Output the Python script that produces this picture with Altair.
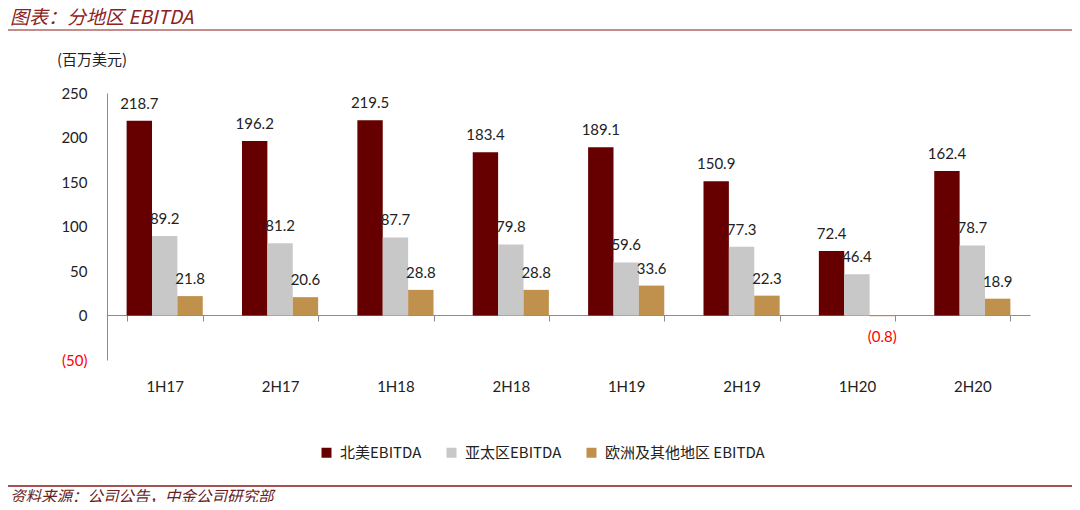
import altair as alt
import pandas as pd

periods = ["1H17", "2H17", "1H18", "2H18", "1H19", "2H19", "1H20", "2H20"]
regions = ["北美EBITDA", "亚太区EBITDA", "欧洲及其他地区 EBITDA"]
north_america = [218.7, 196.2, 219.5, 183.4, 189.1, 150.9, 72.4, 162.4]
asia_pacific = [89.2, 81.2, 87.7, 79.8, 59.6, 77.3, 46.4, 78.7]
europe_other = [21.8, 20.6, 28.8, 28.8, 33.6, 22.3, -0.8, 18.9]
colors = ["#660000", "#C8C8C8", "#C0904D"]
y_ticks = [-50, 0, 50, 100, 150, 200, 250]

rows = []
for series, name in zip([north_america, asia_pacific, europe_other], regions):
    for p, v in zip(periods, series):
        rows.append({"period": p, "region": name, "value": v})
df = pd.DataFrame(rows)
df["label"] = df["value"].map(lambda v: f"({abs(v):.1f})" if v < 0 else f"{v:.1f}")

FONT_NUM = "Lato"
FONT_CJK = "Noto Sans CJK SC"
W, H = 923, 267

x_enc = alt.X(
    "period:N", sort=periods, title=None,
    scale=alt.Scale(paddingInner=0.34, paddingOuter=0.17),
    axis=alt.Axis(
        offset=-45, tickBand="extent", tickSize=6, labelPadding=58, labelAngle=0,
        domainColor="#8c8c8c", tickColor="#8c8c8c", labelFont=FONT_NUM,
        labelFontSize=15, labelColor="#222222",
    ),
)
xoff = alt.XOffset("region:N", sort=regions, scale=alt.Scale(paddingInner=0, paddingOuter=0))
y_enc = alt.Y(
    "value:Q", title=None,
    scale=alt.Scale(domain=[-50, 250], nice=False, zero=False),
    axis=alt.Axis(
        values=y_ticks, grid=False, ticks=False, labelPadding=20,
        domainColor="#8c8c8c", labelFont=FONT_NUM, labelFontSize=15,
        labelExpr="datum.value < 0 ? '(' + abs(datum.value) + ')' : datum.label",
        labelColor={"condition": {"test": "datum.value < 0", "value": "#FF0000"}, "value": "#222222"},
    ),
)

base = alt.Chart(df)
bars = base.mark_bar().encode(
    x=x_enc, xOffset=xoff, y=y_enc,
    color=alt.Color(
        "region:N", sort=regions,
        scale=alt.Scale(domain=regions, range=colors),
        legend=alt.Legend(
            title=None, orient="none", legendX=212, legendY=352, direction="horizontal",
            symbolType="square", symbolSize=100, symbolStrokeWidth=0,
            labelFont=FONT_CJK, labelFontSize=15, labelColor="#222222",
            columnPadding=22, labelOffset=6,
        ),
    ),
)
pos_labels = base.transform_filter("datum.value >= 0").mark_text(
    baseline="bottom", dy=-9, font=FONT_NUM, fontSize=15, color="#222222"
).encode(x=alt.X("period:N", sort=periods), xOffset=xoff, y="value:Q", text="label:N")
neg_labels = base.transform_filter("datum.value < 0").mark_text(
    baseline="middle", dy=21, font=FONT_NUM, fontSize=15, color="#FF0000"
).encode(x=alt.X("period:N", sort=periods), xOffset=xoff, y="value:Q", text="label:N")

deco_color = "#8B1A1A"
title = alt.Chart(pd.DataFrame({"t": ["图表：分地区 EBITDA"]})).mark_text(
    align="left", baseline="middle", font=FONT_CJK, fontSize=19, fontStyle="italic", color="#8B2323"
).encode(x=alt.value(-97), y=alt.value(-75), text="t:N")
title_rule = alt.Chart(pd.DataFrame({"a": [0]})).mark_rule(color=deco_color, strokeWidth=1.2).encode(
    x=alt.value(-99), x2=alt.value(965), y=alt.value(-63)
)
unit = alt.Chart(pd.DataFrame({"t": ["(百万美元)"]})).mark_text(
    align="center", baseline="middle", font=FONT_CJK, fontSize=15, color="#222222"
).encode(x=alt.value(-15), y=alt.value(-33), text="t:N")
foot_rule = alt.Chart(pd.DataFrame({"a": [0]})).mark_rule(color=deco_color, strokeWidth=1.5).encode(
    x=alt.value(-99), x2=alt.value(965), y=alt.value(393)
)
source = alt.Chart(pd.DataFrame({"t": ["资料来源：公司公告，中金公司研究部"]})).mark_text(
    align="left", baseline="middle", font=FONT_CJK, fontSize=15.5, fontStyle="italic", color="#6B2020"
).encode(x=alt.value(-97), y=alt.value(404), text="t:N")

chart = alt.layer(bars, pos_labels, neg_labels, title, title_rule, unit, foot_rule, source).properties(
    width=W, height=H,
    autosize=alt.AutoSizeParams(type="none"),
    padding={"left": 99, "top": 85, "right": 42, "bottom": 142},
).configure(background="white").configure_view(strokeWidth=0, stroke="transparent")

chart.save("out.html", embed_options={"renderer": "svg", "actions": False})
